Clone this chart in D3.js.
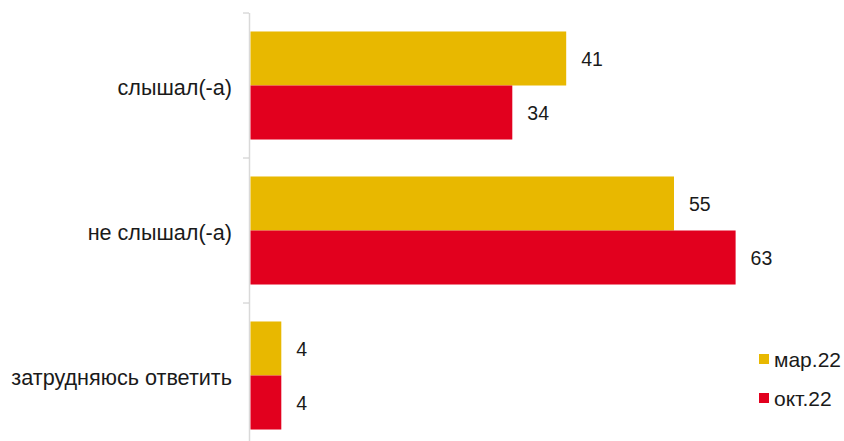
<!DOCTYPE html>
<html><head><meta charset="utf-8">
<script src="https://cdn.jsdelivr.net/npm/d3@7"></script>
<style>body{margin:0;background:#fff}svg{display:block;font-family:"Liberation Sans",Arial,sans-serif}</style>
</head><body><svg id="c" width="844" height="441"></svg>
<script>
const categories = ["слышал(-а)", "не слышал(-а)", "затрудняюсь ответить"];
const seriesNames = ["мар.22", "окт.22"];
const mar22 = [41, 55, 4];
const okt22 = [34, 63, 4];
const colors = ["#E8B800", "#E2001E"];

const svg = d3.select("#c");
const x = d3.scaleLinear().domain([0, 70]).range([250.5, 250.5 + 70 * 7.7]);
const y = d3.scaleBand().domain(categories).range([13, 448]).paddingInner(0.255).paddingOuter(0.1275);
const y2 = d3.scaleBand().domain(seriesNames).range([0, y.bandwidth()]);
const series = [mar22, okt22];

const step = y.step();
svg.append("line").attr("x1", 249.5).attr("x2", 249.5).attr("y1", 13).attr("y2", 441)
  .attr("stroke", "#d9d9d9").attr("stroke-width", 1.5);
const bounds = [0, 1, 2].map(i => 13 + i * step);
svg.selectAll("line.tk").data(bounds).join("line").attr("class", "tk")
  .attr("x1", 243).attr("x2", 249).attr("y1", d => d).attr("y2", d => d)
  .attr("stroke", "#c8c8c8").attr("stroke-width", 1);

const g = svg.selectAll("g.cat").data(categories).join("g")
  .attr("transform", d => `translate(0,${y(d)})`);
series.forEach((vals, si) => {
  g.append("rect").attr("x", x(0)).attr("y", y2(seriesNames[si]))
    .attr("width", (d, i) => x(vals[i]) - x(0)).attr("height", y2.bandwidth())
    .attr("fill", colors[si]);
  g.append("text").attr("x", (d, i) => x(vals[i]) + 15)
    .attr("y", y2(seriesNames[si]) + y2.bandwidth() / 2).attr("dy", "0.37em")
    .attr("font-size", 19.5).attr("fill", "#1a1a1a").text((d, i) => vals[i]);
});
svg.selectAll("text.cl").data(categories).join("text").attr("class", "cl")
  .attr("x", 232).attr("y", d => y(d) + y.bandwidth() / 2 + 9)
  .attr("text-anchor", "end").attr("font-size", 21.6).attr("fill", "#1a1a1a").text(d => d);

const lg = svg.selectAll("g.lg").data(seriesNames).join("g").attr("class", "lg")
  .attr("transform", (d, i) => `translate(759,${354 + i * 39})`);
lg.append("rect").attr("width", 10).attr("height", 10).attr("fill", (d, i) => colors[i]);
lg.append("text").attr("x", 15).attr("y", 13).attr("font-size", 21).attr("fill", "#1a1a1a").text(d => d);
</script></body></html>
